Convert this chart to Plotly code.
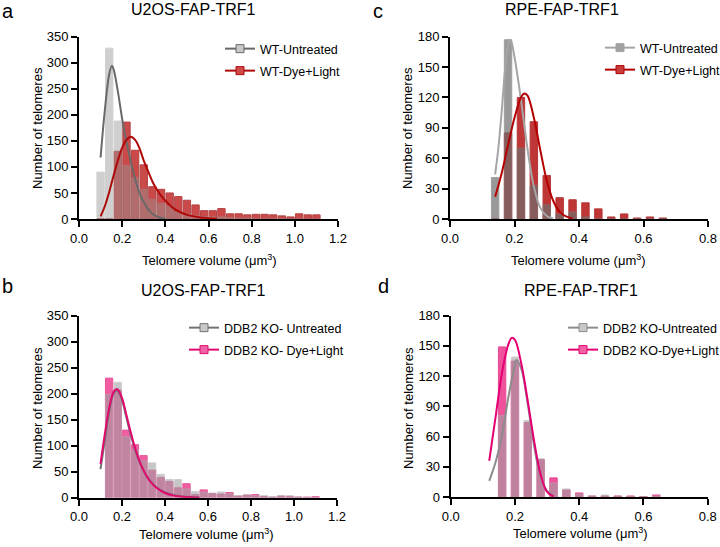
import plotly.graph_objects as go

W, H = 720, 547
FONT = "Arial, 'Liberation Sans', Helvetica, sans-serif"

# ---------------- data ----------------
# Panel a: U2OS WT
bins_a = [0.10, 0.14, 0.18, 0.22, 0.26, 0.30, 0.34, 0.38, 0.42, 0.46, 0.50, 0.54, 0.58,
          0.62, 0.66, 0.70, 0.74, 0.78, 0.82, 0.86, 0.90, 0.94, 0.98, 1.02, 1.06, 1.10]
untreated_a = [90, 328, 188, 103, 80, 57, 38, 30, 25, 13, 10, 6, 5,
               4, 4, 3, 2, 2, 1, 1, 1, 1, 0, 1, 0, 0]
treated_a = [0, 0, 130, 186, 132, 104, 62, 57, 50, 43, 36, 27, 16,
             16, 20, 10, 10, 8, 9, 9, 8, 6, 4, 10, 8, 8]
fit_x_a_untreated = [0.10, 0.12, 0.14, 0.152, 0.16, 0.18, 0.20, 0.22, 0.24, 0.26, 0.28,
                     0.30, 0.32, 0.34, 0.36, 0.38, 0.40]
fit_y_a_untreated = [118, 210, 278, 294, 288, 245, 192, 148, 110, 77, 50,
                     32, 19, 10, 5, 2, 1]
fit_x_a_treated = [0.10, 0.12, 0.14, 0.16, 0.18, 0.20, 0.22, 0.24, 0.26, 0.28, 0.30,
                   0.32, 0.34, 0.36, 0.38, 0.40, 0.44, 0.48, 0.52, 0.56, 0.60, 0.64]
fit_y_a_treated = [5, 25, 52, 83, 112, 137, 152, 158, 152, 136, 112,
                   92, 72, 57, 45, 35, 20, 11, 6, 3, 1.5, 0.7]

# Panel c: RPE WT
bins_c = [0.14, 0.18, 0.22, 0.26, 0.30, 0.34, 0.38, 0.42, 0.46, 0.50, 0.54, 0.58, 0.62, 0.66]
untreated_c = [41, 177, 70, 33, 14, 5, 7, 2, 0, 0, 0, 0, 0, 0]
treated_c = [0, 85, 120, 96, 43, 21, 19, 16, 10, 2, 5, 1, 2, 1]
fit_x_c_untreated = [0.14, 0.15, 0.16, 0.17, 0.18, 0.185, 0.19, 0.20, 0.21, 0.22, 0.24,
                     0.26, 0.28, 0.30, 0.32]
fit_y_c_untreated = [44, 70, 105, 145, 172, 177, 175, 160, 140, 118, 70,
                     32, 11, 3, 0.5]
fit_x_c_treated = [0.14, 0.16, 0.18, 0.20, 0.22, 0.23, 0.24, 0.26, 0.28, 0.30, 0.32,
                   0.34, 0.36, 0.38]
fit_y_c_treated = [22, 45, 73, 100, 120, 124, 122, 100, 68, 38, 18, 7, 2.5, 0.5]

# Panel b: U2OS DDB2 KO
bins_b = [0.14, 0.18, 0.22, 0.26, 0.30, 0.34, 0.38, 0.42, 0.46, 0.50, 0.54, 0.58, 0.62,
          0.66, 0.70, 0.74, 0.78, 0.82, 0.86, 0.90, 0.94, 0.98, 1.02, 1.06, 1.10]
untreated_b = [199, 222, 118, 92, 71, 67, 45, 35, 35, 17, 12, 11, 9,
               11, 8, 4, 6, 4, 4, 2, 4, 4, 2, 1, 1]
treated_b = [230, 207, 130, 102, 81, 53, 39, 31, 19, 27, 6, 15, 8,
             7, 10, 3, 5, 6, 2, 1, 3, 2, 1, 1, 2]
fit_x_b = [0.10, 0.12, 0.14, 0.16, 0.175, 0.18, 0.20, 0.22, 0.24, 0.26, 0.28, 0.30,
           0.32, 0.34, 0.36, 0.40, 0.44, 0.48, 0.52, 0.56]
fit_y_b_untreated = [55, 110, 165, 200, 207, 206, 188, 155, 122, 93, 70, 52,
                     38, 28, 20, 10, 5, 2.5, 1.2, 0.6]
fit_y_b_treated = [65, 122, 172, 203, 209, 208, 192, 160, 127, 97, 72, 53,
                   38, 27, 19, 9, 4, 2, 1, 0.4]

# Panel d: RPE DDB2 KO
bins_d = [0.16, 0.20, 0.24, 0.28, 0.32, 0.36, 0.40, 0.44, 0.48, 0.52, 0.56, 0.60, 0.64]
untreated_d = [81, 139, 76, 38, 14, 8, 3, 1, 2, 1, 0.5, 0.5, 1]
treated_d = [149, 135, 74, 37, 19, 7, 4, 1, 1, 1, 1, 0.5, 2]
fit_x_d_untreated = [0.12, 0.14, 0.16, 0.18, 0.20, 0.205, 0.22, 0.24, 0.26, 0.28, 0.30, 0.32]
fit_y_d_untreated = [16, 35, 62, 100, 131, 136, 127, 92, 50, 20, 6, 1.5]
fit_x_d_treated = [0.12, 0.14, 0.16, 0.18, 0.19, 0.20, 0.22, 0.24, 0.26, 0.28, 0.30, 0.32]
fit_y_d_treated = [36, 80, 124, 152, 158, 156, 132, 95, 55, 22, 5, 0.5]

titles = ["U2OS-FAP-TRF1", "RPE-FAP-TRF1", "U2OS-FAP-TRF1", "RPE-FAP-TRF1"]
letters = ["a", "c", "b", "d"]
legend_labels = [("WT-Untreated", "WT-Dye+Light"),
                 ("WT-Untreated", "WT-Dye+Light"),
                 ("DDB2 KO- Untreated", "DDB2 KO- Dye+Light"),
                 ("DDB2 KO-Untreated", "DDB2 KO-Dye+Light")]
x_title = "Telomere volume (\u03bcm<sup>3</sup>)"
y_title = "Number of telomeres"

# ---------------- layout geometry (pixels) ----------------
boxes = {
    "a": (79, 338, 36.7, 219),
    "c": (450, 708, 36.7, 219),
    "b": (79, 337, 315.7, 497.7),
    "d": (450.7, 707.7, 315.7, 497),
}

def fx(p):
    return p / W

def fy(p):
    return 1 - p / H

fig = go.Figure()

panels = [
    dict(key="a", xa="x", ya="y", bins=bins_a, unt=untreated_a, trt=treated_a,
         fxu=fit_x_a_untreated, fyu=fit_y_a_untreated, fxt=fit_x_a_treated, fyt=fit_y_a_treated,
         width=0.034, grey="rgb(150,150,150)", grey_op=0.45, grey_edge="rgb(150,150,150)",
         trt_col="rgb(190,30,30)", trt_op=0.8, trt_edge="rgb(160,20,20)",
         gline="rgb(105,105,105)", tline="rgb(175,10,10)",
         lg_fill=("rgb(200,200,200)", "rgb(205,75,75)"),
         xr=[0, 1.2], xt=[0, 0.2, 0.4, 0.6, 0.8, 1.0, 1.2], yr=[0, 350], yt=[0, 50, 100, 150, 200, 250, 300, 350],
         leg=("legend", "legend2"), legx=220, legy=(49, 71)),
    dict(key="c", xa="x2", ya="y2", bins=bins_c, unt=untreated_c, trt=treated_c,
         fxu=fit_x_c_untreated, fyu=fit_y_c_untreated, fxt=fit_x_c_treated, fyt=fit_y_c_treated,
         width=0.023, grey="rgb(110,110,110)", grey_op=0.7, grey_edge="rgb(120,120,120)",
         trt_col="rgb(180,20,20)", trt_op=0.85, trt_edge="rgb(170,20,20)",
         gline="rgb(165,165,165)", tline="rgb(180,0,0)",
         lg_fill=("rgb(160,160,160)", "rgb(200,60,60)"),
         xr=[0, 0.8], xt=[0, 0.2, 0.4, 0.6, 0.8], yr=[0, 180], yt=[0, 30, 60, 90, 120, 150, 180],
         leg=("legend3", "legend4"), legx=600, legy=(48, 70)),
    dict(key="b", xa="x3", ya="y3", bins=bins_b, unt=untreated_b, trt=treated_b,
         fxu=fit_x_b, fyu=fit_y_b_untreated, fxt=fit_x_b, fyt=fit_y_b_treated,
         width=0.034, grey="rgb(160,160,160)", grey_op=0.6, grey_edge="rgb(175,175,175)",
         trt_col="rgb(235,40,130)", trt_op=0.75, trt_edge="rgb(225,30,120)",
         gline="rgb(115,115,115)", tline="rgb(225,10,110)",
         lg_fill=("rgb(200,200,200)", "rgb(240,100,165)"),
         xr=[0, 1.2], xt=[0, 0.2, 0.4, 0.6, 0.8, 1.0, 1.2], yr=[0, 350], yt=[0, 50, 100, 150, 200, 250, 300, 350],
         leg=("legend5", "legend6"), legx=184, legy=(328, 350)),
    dict(key="d", xa="x4", ya="y4", bins=bins_d, unt=untreated_d, trt=treated_d,
         fxu=fit_x_d_untreated, fyu=fit_y_d_untreated, fxt=fit_x_d_treated, fyt=fit_y_d_treated,
         width=0.023, grey="rgb(160,160,160)", grey_op=0.6, grey_edge="rgb(175,175,175)",
         trt_col="rgb(235,40,130)", trt_op=0.8, trt_edge="rgb(225,30,120)",
         gline="rgb(140,140,140)", tline="rgb(228,0,115)",
         lg_fill=("rgb(200,200,200)", "rgb(240,100,165)"),
         xr=[0, 0.8], xt=[0, 0.2, 0.4, 0.6, 0.8], yr=[0, 180], yt=[0, 30, 60, 90, 120, 150, 180],
         leg=("legend7", "legend8"), legx=563, legy=(328, 350)),
]

layout = dict(
    width=W, height=H, margin=dict(l=0, r=0, t=0, b=0, autoexpand=False),
    paper_bgcolor="white", plot_bgcolor="white",
    barmode="overlay", font=dict(family=FONT, color="black", size=13),
    annotations=[],
)

for i, p in enumerate(panels):
    fig.add_trace(go.Bar(x=p["bins"], y=p["trt"], width=p["width"], xaxis=p["xa"], yaxis=p["ya"],
                         marker=dict(color=p["trt_col"], line=dict(color=p["trt_edge"], width=1)),
                         opacity=p["trt_op"], showlegend=False, hoverinfo="skip"))
    fig.add_trace(go.Bar(x=p["bins"], y=p["unt"], width=p["width"], xaxis=p["xa"], yaxis=p["ya"],
                         marker=dict(color=p["grey"], line=dict(color=p["grey_edge"], width=1)),
                         opacity=p["grey_op"], showlegend=False, hoverinfo="skip"))
    fig.add_trace(go.Scatter(x=p["fxu"], y=p["fyu"], mode="lines", xaxis=p["xa"], yaxis=p["ya"],
                             line=dict(color=p["gline"], width=2, shape="spline", smoothing=1.0),
                             showlegend=False, hoverinfo="skip"))
    fig.add_trace(go.Scatter(x=p["fxt"], y=p["fyt"], mode="lines", xaxis=p["xa"], yaxis=p["ya"],
                             line=dict(color=p["tline"], width=2, shape="spline", smoothing=1.0),
                             showlegend=False, hoverinfo="skip"))
    labs = legend_labels[i]
    legend_specs = [
        (labs[0], p["gline"], p["lg_fill"][0], p["leg"][0], p["legy"][0]),
        (labs[1], p["tline"], p["lg_fill"][1], p["leg"][1], p["legy"][1]),
    ]
    for name, lc, fc, lg, ly in legend_specs:
        fig.add_trace(go.Scatter(x=[None], y=[None], mode="lines+markers", name=name,
                                 xaxis=p["xa"], yaxis=p["ya"], legend=lg,
                                 line=dict(color=lc, width=2),
                                 marker=dict(symbol="square", size=8, color=fc, line=dict(color=lc, width=1))))
        layout[lg] = dict(x=fx(p["legx"]), y=fy(ly), xanchor="left", yanchor="middle",
                          bgcolor="rgba(0,0,0,0)", borderwidth=0, itemwidth=30,
                          font=dict(family=FONT, size=12.5, color="black"))

    l, r, t, b = boxes[p["key"]]
    axis_common = dict(showline=True, linecolor="black", linewidth=2, ticks="outside",
                       ticklen=6, tickwidth=2, tickcolor="black", showgrid=False,
                       zeroline=False, automargin=False,
                       tickfont=dict(family=FONT, size=13, color="black"))
    xname = "xaxis" if p["xa"] == "x" else "xaxis" + p["xa"][1:]
    yname = "yaxis" if p["ya"] == "y" else "yaxis" + p["ya"][1:]
    layout[xname] = dict(domain=[fx(l), fx(r)], range=p["xr"], tickvals=p["xt"],
                         ticktext=["%.1f" % v for v in p["xt"]], anchor=p["ya"], **axis_common)
    layout[yname] = dict(domain=[fy(b), fy(t)], range=p["yr"], tickvals=p["yt"],
                         anchor=p["xa"], **axis_common)

title_pos = {"a": (193, 10), "c": (562, 10), "b": (203, 290), "d": (581, 290)}
letter_pos = {"a": (8, 11), "c": (378, 11), "b": (7, 286), "d": (383, 286)}
xt_pos = {"a": (209, 260), "c": (578, 260), "b": (207, 534), "d": (580, 533)}
yt_pos = {"a": (37, 128), "c": (407, 128), "b": (37, 408), "d": (408, 408)}

for key, title, letter in zip(["a", "c", "b", "d"], titles, letters):
    ann = layout["annotations"]
    tx, ty = title_pos[key]
    ann.append(dict(text=title, x=fx(tx), y=fy(ty), xref="paper", yref="paper",
                    showarrow=False, xanchor="center", yanchor="middle",
                    font=dict(family=FONT, size=16, color="black")))
    lx, ly = letter_pos[key]
    ann.append(dict(text=letter, x=fx(lx), y=fy(ly), xref="paper", yref="paper",
                    showarrow=False, xanchor="center", yanchor="middle",
                    font=dict(family=FONT, size=20, color="black")))
    ax_, ay_ = xt_pos[key]
    ann.append(dict(text=x_title, x=fx(ax_), y=fy(ay_), xref="paper", yref="paper",
                    showarrow=False, xanchor="center", yanchor="middle",
                    font=dict(family=FONT, size=13, color="black")))
    yx, yy = yt_pos[key]
    ann.append(dict(text=y_title, x=fx(yx), y=fy(yy), xref="paper", yref="paper",
                    showarrow=False, xanchor="center", yanchor="middle", textangle=-90,
                    font=dict(family=FONT, size=13, color="black")))

fig.update_layout(**layout)
fig.write_html("out.html", config={"displayModeBar": False},
               post_script="document.body.style.margin='0';document.body.style.padding='0';")
